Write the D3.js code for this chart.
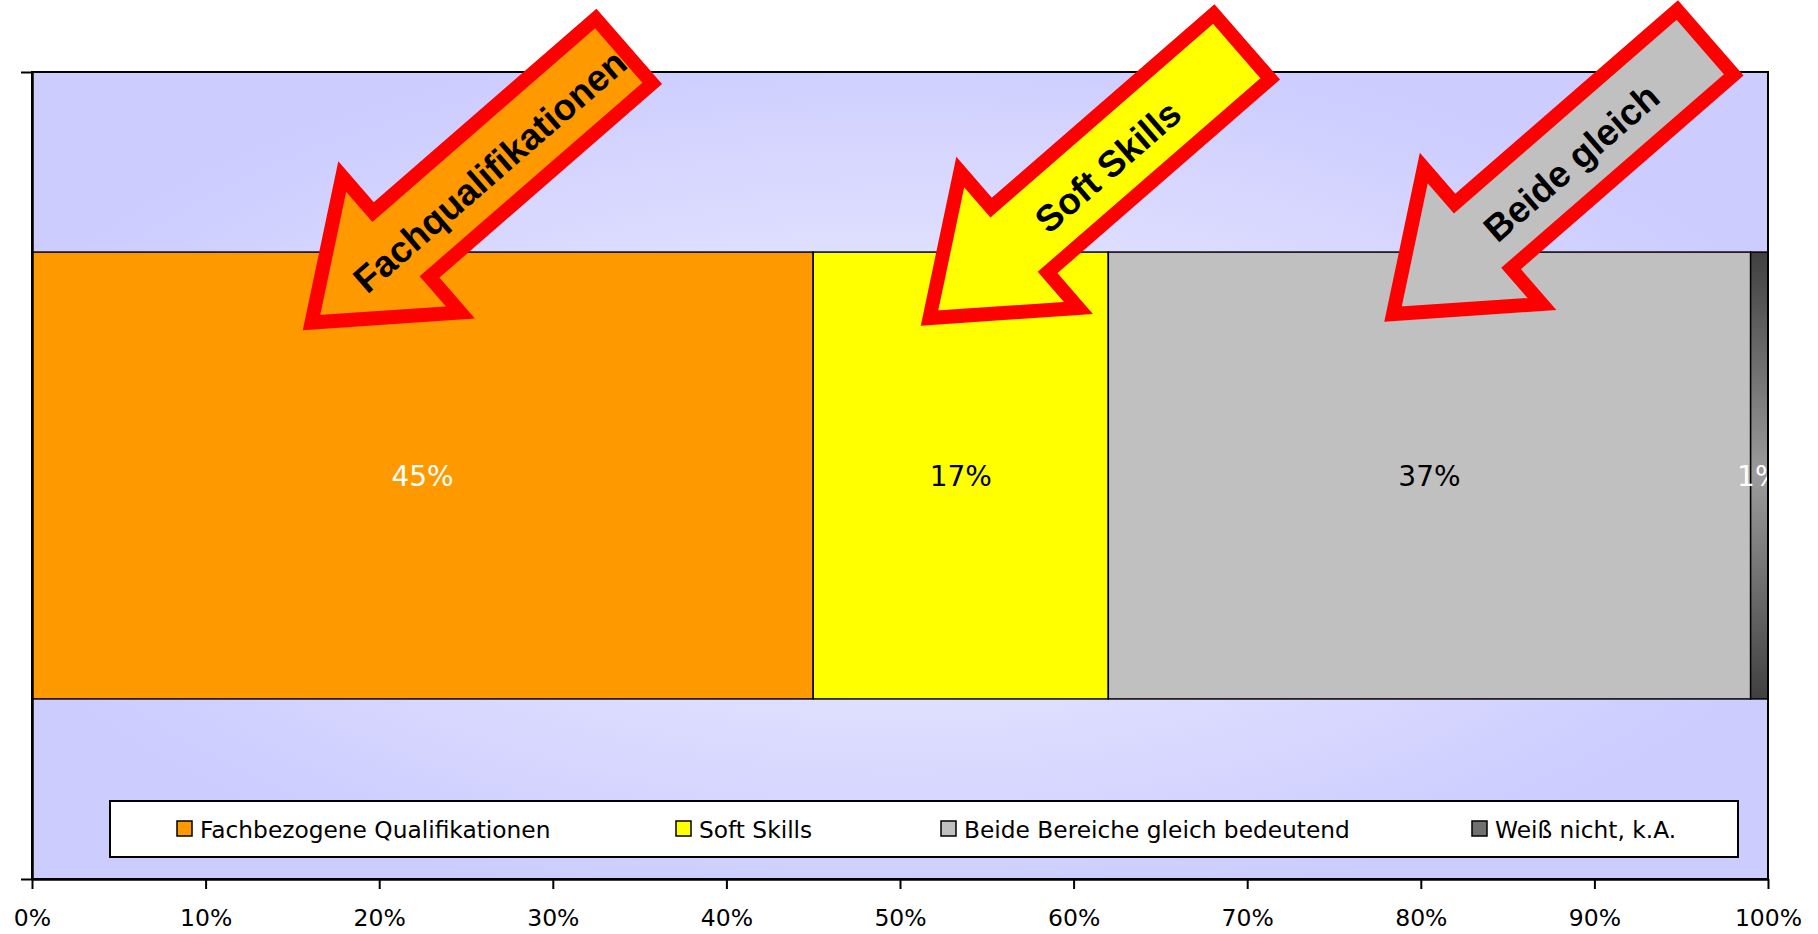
<!DOCTYPE html>
<html>
<head>
<meta charset="utf-8">
<script src="https://cdn.jsdelivr.net/npm/d3@7"></script>
<style>
  body { margin: 0; background: #fff; }
  svg { display: block; }
</style>
</head>
<body>
<div id="chart"></div>
<script>
// Data
const categories = ["Fachbezogene Qualifikationen", "Soft Skills", "Beide Bereiche gleich bedeutend", "Weiß nicht, k.A."];
const values = [45, 17, 37, 1];
const ticks = [0, 10, 20, 30, 40, 50, 60, 70, 80, 90, 100];
const arrowLabels = ["Fachqualifikationen", "Soft Skills", "Beide gleich"];
const arrowAt = [16.1, 51.7, 78.4]; // where the arrow tips sit on the % axis

// Styles
const colors = ["#FF9900", "#FFFF00", "#C0C0C0", "url(#darkGrad)"];
const labelColors = ["#fff", "#000", "#000", "#fff"];
const legendColors = ["#FF9900", "#FFFF00", "#C0C0C0", "#707070"];

const svgWidth = 1818;
const svgHeight = 934;
const margin = { top: 72, right: 50, bottom: 55, left: 32 };
const width = svgWidth - margin.left - margin.right;
const height = svgHeight - margin.top - margin.bottom;
const font = "DejaVu Sans, Verdana, sans-serif";

const svg = d3.select("#chart")
    .append("svg")
    .attr("width", svgWidth)
    .attr("height", svgHeight);

const defs = svg.append("defs");

// plot area background - light in the middle, lavender at the edges
const bg = defs.append("radialGradient")
    .attr("id", "bgGrad")
    .attr("cx", 0.5).attr("cy", 0.5).attr("r", 0.55);
bg.append("stop").attr("offset", 0).attr("stop-color", "#F2F2FF");
bg.append("stop").attr("offset", 1).attr("stop-color", "#CCCCFF");

const dark = defs.append("linearGradient")
    .attr("id", "darkGrad")
    .attr("x1", 0).attr("y1", 0).attr("x2", 0).attr("y2", 1);
dark.append("stop").attr("offset", 0).attr("stop-color", "#404040");
dark.append("stop").attr("offset", 0.5).attr("stop-color", "#9C9C9C");
dark.append("stop").attr("offset", 1).attr("stop-color", "#404040");

defs.append("clipPath").attr("id", "plotClip")
    .append("rect").attr("width", width).attr("height", height);

const g = svg.append("g")
    .attr("transform", `translate(${margin.left}, ${margin.top})`);

// Scales
const x = d3.scaleLinear().domain([0, 100]).range([0, width]);
const y = d3.scaleBand().domain(["all"]).range([0, height])
    .paddingInner(0).paddingOuter(0.403);
const yEdge = d3.scaleLinear().domain([0, 1]).range([height, 0]);

g.append("rect")
    .attr("width", width)
    .attr("height", height)
    .attr("fill", "url(#bgGrad)");

// stacked segments
const ends = d3.cumsum(values);
const segs = values.map((v, i) => ({ name: categories[i], value: v, start: ends[i] - v, end: ends[i], i }));

g.selectAll(".seg")
    .data(segs)
    .enter()
    .append("rect")
    .attr("class", "seg")
    .attr("x", d => x(d.start))
    .attr("y", y("all"))
    .attr("width", d => x(d.end) - x(d.start))
    .attr("height", y.bandwidth())
    .attr("fill", d => colors[d.i])
    .attr("stroke", "#000")
    .attr("stroke-width", 1.5);

g.append("g")
    .attr("clip-path", "url(#plotClip)")
    .selectAll("text")
    .data(segs)
    .enter()
    .append("text")
    .attr("x", d => x((d.start + d.end) / 2))
    .attr("y", y("all") + y.bandwidth() / 2)
    .attr("dy", "0.38em")
    .attr("text-anchor", "middle")
    .attr("fill", d => labelColors[d.i])
    .style("font-family", font)
    .style("font-size", "28px")
    .text(d => d.value + "%");

// plot border (top and right)
g.append("rect")
    .attr("width", width)
    .attr("height", height)
    .attr("fill", "none")
    .attr("stroke", "#000")
    .attr("stroke-width", 2);

// axes
const xAxis = g.append("g")
    .attr("transform", `translate(0, ${height})`)
    .call(d3.axisBottom(x)
        .tickValues(ticks)
        .tickFormat(d => d + "%")
        .tickSize(10)
        .tickSizeOuter(0)
        .tickPadding(20));

const yAxis = g.append("g")
    .call(d3.axisLeft(yEdge)
        .tickValues([0, 1])
        .tickFormat("")
        .tickSize(11)
        .tickSizeOuter(0));

[xAxis, yAxis].forEach(a => {
    a.select(".domain").attr("stroke", "#000").attr("stroke-width", 2.5);
    a.selectAll(".tick line").attr("stroke", "#000").attr("stroke-width", 2);
    a.selectAll(".tick text")
        .attr("fill", "#000")
        .style("font-family", font)
        .style("font-size", "23.5px");
});

// legend
const legendX = [67, 566, 831, 1362];
const legend = g.append("g")
    .attr("transform", `translate(${110 - margin.left}, ${801 - margin.top})`);

legend.append("rect")
    .attr("width", 1628)
    .attr("height", 56)
    .attr("fill", "#fff")
    .attr("stroke", "#000")
    .attr("stroke-width", 2);

const items = legend.selectAll(".item")
    .data(categories)
    .enter()
    .append("g")
    .attr("class", "item")
    .attr("transform", (d, i) => `translate(${legendX[i]}, 0)`);

items.append("rect")
    .attr("y", 20)
    .attr("width", 15)
    .attr("height", 15)
    .attr("fill", (d, i) => legendColors[i])
    .attr("stroke", "#000")
    .attr("stroke-width", 1.5);

items.append("text")
    .attr("x", 23)
    .attr("y", 37)
    .attr("fill", "#000")
    .style("font-family", font)
    .style("font-size", "23.3px")
    .text(d => d);

// block arrows pointing down-left onto the segments
const L = 414, hl = 119, hw = 90, sw = 43;
const arrowShape = [[0, 0], [hl, -hw], [hl, -sw], [L, -sw], [L, sw], [hl, sw], [hl, hw]];
const tipDy = [70.5, 66, 62];

const arrows = g.selectAll(".arrow")
    .data(arrowLabels)
    .enter()
    .append("g")
    .attr("class", "arrow")
    .attr("transform", (d, i) => `translate(${x(arrowAt[i])}, ${y("all") + tipDy[i]}) rotate(-41)`);

arrows.append("path")
    .attr("d", d3.line()(arrowShape) + "Z")
    .attr("fill", (d, i) => colors[i])
    .attr("stroke", "#FF0000")
    .attr("stroke-width", 14)
    .attr("stroke-linejoin", "miter")
    .attr("stroke-miterlimit", 10);

arrows.append("text")
    .attr("x", 234)
    .attr("y", 3)
    .attr("dominant-baseline", "central")
    .attr("text-anchor", "middle")
    .attr("fill", "#000")
    .style("font-family", "Liberation Sans, Arial, sans-serif")
    .style("font-weight", "bold")
    .style("font-size", "37px")
    .text(d => d);
</script>
</body>
</html>
